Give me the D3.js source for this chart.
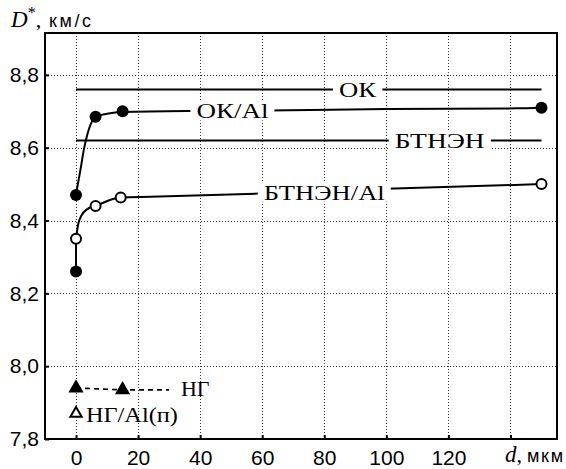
<!DOCTYPE html>
<html>
<head>
<meta charset="utf-8">
<script src="https://cdn.jsdelivr.net/npm/d3@7/dist/d3.min.js"></script>
<style>
  html, body { margin: 0; padding: 0; background: #fff; }
  svg { display: block; }
</style>
</head>
<body>
<svg id="chart" width="566" height="469"></svg>
<script>
// Detonation velocity D* vs. layer thickness d

// x ticks (d, мкм) and y ticks (D*, км/с)
const xTicks = [0, 20, 40, 60, 80, 100, 120, 140];
const xTickLabels = ["0", "20", "40", "60", "80", "100", "120", ""];
const yTicks = [7.8, 8.0, 8.2, 8.4, 8.6, 8.8];
const yTickLabels = ["7,8", "8,0", "8,2", "8,4", "8,6", "8,8"];

// Reference levels (pure explosives)
const levelOK = [[0, 8.76], [150, 8.76]];
const levelBTNEN = [[0, 8.62], [150, 8.62]];

// ОК/Al measured points (filled circles)
const okAlPoints = [[0, 8.47], [6.3, 8.685], [15, 8.70], [150, 8.71]];
// ОК/Al fitted curve
const okAlCurve = [[0, 8.472], [1.6, 8.548], [2.5, 8.594], [3.8, 8.641], [5.4, 8.676],
  [6.3, 8.685], [10, 8.693], [15, 8.698], [40, 8.701], [62, 8.702], [100, 8.706],
  [142, 8.708], [150, 8.71]];

// БТНЭН/Al measured points (open circles)
const btnenAlPoints = [[0, 8.35], [6.3, 8.44], [14.4, 8.463], [150, 8.50]];
// БТНЭН/Al fitted curve
const btnenAlCurve = [[0, 8.35], [0.7, 8.39], [1.7, 8.413], [3.4, 8.43], [6.3, 8.44],
  [14.4, 8.463], [24, 8.465], [59, 8.474], [100, 8.487], [150, 8.50]];

// extra filled point at d = 0 and its connector
const extraPoint = [[0, 8.26]];
const extraLink = [[0, 8.26], [0, 8.35]];

// НГ (filled triangles, dashed) and НГ/Al(п) (open triangle)
const ngPoints = [[0, 7.94], [15, 7.935]];
const ngLine = [[0, 7.94], [15, 7.935], [30, 7.935]];
const ngAlPoints = [[0, 7.87]];

const svg = d3.select("#chart");
const W = 566, H = 469;
const margin = { left: 45, right: 9, top: 33, bottom: 30 };

const x = d3.scaleLinear().domain([-10, 155]).range([margin.left, W - margin.right]);
const y = d3.scaleLinear().domain([7.8, 8.915]).range([H - margin.bottom, margin.top]);

const serif = "'Liberation Serif', 'DejaVu Serif', serif";
const sans = "'Liberation Sans', Arial, sans-serif";

// grid
const grid = svg.append("g").attr("stroke", "#333").attr("stroke-width", 1)
  .attr("stroke-dasharray", "1,2");
grid.selectAll("line.gx").data(xTicks).join("line")
  .attr("x1", d => Math.round(x(d)) + 0.5).attr("x2", d => Math.round(x(d)) + 0.5)
  .attr("y1", y.range()[1]).attr("y2", y.range()[0]);
grid.selectAll("line.gy").data(yTicks.filter(v => v > 7.8)).join("line")
  .attr("y1", d => Math.round(y(d)) + 0.5).attr("y2", d => Math.round(y(d)) + 0.5)
  .attr("x1", x.range()[0]).attr("x2", x.range()[1]);

// axes with inner ticks
const xAxis = d3.axisBottom(x).tickValues(xTicks).tickSize(-4)
  .tickFormat((d, i) => xTickLabels[i]).tickPadding(11);
const gx = svg.append("g").attr("transform", `translate(0,${y.range()[0]})`).call(xAxis);
gx.select(".domain").remove();
gx.selectAll(".tick line").attr("stroke", "#000").attr("stroke-width", 2);
gx.selectAll(".tick text").attr("font-family", sans).attr("font-size", 21)
  .attr("fill", "#000");

const yAxis = d3.axisLeft(y).tickValues(yTicks).tickSize(-4)
  .tickFormat((d, i) => yTickLabels[i]).tickPadding(6);
const gy = svg.append("g").attr("transform", `translate(${x.range()[0]},0)`).call(yAxis);
gy.select(".domain").remove();
gy.selectAll(".tick line").attr("stroke", "#000").attr("stroke-width", 2);
gy.selectAll(".tick text").attr("font-family", sans).attr("font-size", 21)
  .attr("fill", "#000");

// frame
svg.append("rect")
  .attr("x", x.range()[0]).attr("y", y.range()[1])
  .attr("width", x.range()[1] - x.range()[0]).attr("height", y.range()[0] - y.range()[1])
  .attr("fill", "none").attr("stroke", "#000").attr("stroke-width", 2);

const lineLinear = d3.line().x(d => x(d[0])).y(d => y(d[1]));
const lineSmooth = d3.line().x(d => x(d[0])).y(d => y(d[1])).curve(d3.curveMonotoneX);

const plot = svg.append("g");
[levelOK, levelBTNEN, extraLink].forEach(pts =>
  plot.append("path").attr("d", lineLinear(pts)).attr("fill", "none")
    .attr("stroke", "#000").attr("stroke-width", 2));
[okAlCurve, btnenAlCurve].forEach(pts =>
  plot.append("path").attr("d", lineSmooth(pts)).attr("fill", "none")
    .attr("stroke", "#000").attr("stroke-width", 2));
plot.append("path").attr("d", lineLinear(ngLine)).attr("fill", "none")
  .attr("stroke", "#000").attr("stroke-width", 1.6).attr("stroke-dasharray", "5,4");

// curve labels on white backing
const labels = [
  { text: "ОК", d: 90.7, v: 8.76, w: 37 },
  { text: "ОК/Al", d: 50.4, v: 8.701, w: 72 },
  { text: "БТНЭН", d: 117.2, v: 8.62, w: 90 },
  { text: "БТНЭН/Al", d: 80, v: 8.478, w: 121 }
];
labels.forEach(l => {
  const g = plot.append("g");
  const bg = g.append("rect").attr("fill", "#fff");
  const t = g.append("text").text(l.text)
    .attr("x", x(l.d)).attr("y", y(l.v))
    .attr("text-anchor", "middle").attr("dominant-baseline", "central")
    .attr("font-family", serif).attr("font-size", 22).attr("fill", "#000")
    .attr("textLength", l.w).attr("lengthAdjust", "spacingAndGlyphs");
  const b = t.node().getBBox();
  bg.attr("x", b.x - 6).attr("y", b.y + 3).attr("width", b.width + 12).attr("height", b.height - 6);
});

// markers
plot.selectAll("circle.okal").data(okAlPoints.concat(extraPoint)).join("circle")
  .attr("cx", d => x(d[0])).attr("cy", d => y(d[1])).attr("r", 6).attr("fill", "#000");
plot.selectAll("circle.btal").data(btnenAlPoints).join("circle")
  .attr("cx", d => x(d[0])).attr("cy", d => y(d[1])).attr("r", 5)
  .attr("fill", "#fff").attr("stroke", "#000").attr("stroke-width", 2);

const triFilled = d3.symbol().type(d3.symbolTriangle).size(100);
const triOpen = d3.symbol().type(d3.symbolTriangle).size(55);
plot.selectAll("path.ng").data(ngPoints).join("path")
  .attr("d", triFilled).attr("transform", d => `translate(${x(d[0])},${y(d[1])})`)
  .attr("fill", "#000");
plot.selectAll("path.ngal").data(ngAlPoints).join("path")
  .attr("d", triOpen).attr("transform", d => `translate(${x(d[0])},${y(d[1])})`)
  .attr("fill", "#fff").attr("stroke", "#000").attr("stroke-width", 2);

plot.append("text").text("НГ").attr("x", x(33.8)).attr("y", y(7.94))
  .attr("dominant-baseline", "central").attr("font-family", serif)
  .attr("font-size", 22).attr("fill", "#000");
plot.append("text").text("НГ/Al(п)").attr("x", x(3.2)).attr("y", y(7.868))
  .attr("dominant-baseline", "central").attr("font-family", serif)
  .attr("font-size", 22).attr("fill", "#000")
  .attr("textLength", 92).attr("lengthAdjust", "spacingAndGlyphs");

// axis titles
const yt = svg.append("text").attr("x", 11).attr("y", 27).attr("fill", "#000");
yt.append("tspan").text("D").attr("font-family", serif).attr("font-style", "italic")
  .attr("font-size", 23);
yt.append("tspan").text("*").attr("font-family", serif).attr("font-size", 16)
  .attr("dy", -9);
yt.append("tspan").text(",").attr("font-family", serif).attr("font-size", 22)
  .attr("dy", 9);
svg.append("text").text("км/с").attr("x", 49).attr("y", 27)
  .attr("font-family", sans).attr("font-size", 18).attr("fill", "#000")
  .attr("textLength", 42).attr("lengthAdjust", "spacing");

const xt = svg.append("text").attr("x", 505).attr("y", 462).attr("fill", "#000");
xt.append("tspan").text("d").attr("font-family", serif).attr("font-style", "italic")
  .attr("font-size", 23);
xt.append("tspan").text(",").attr("font-family", serif).attr("font-size", 22);
svg.append("text").text("мкм").attr("x", 527).attr("y", 462)
  .attr("font-family", sans).attr("font-size", 18).attr("fill", "#000")
  .attr("textLength", 36).attr("lengthAdjust", "spacing");
</script>
</body>
</html>
